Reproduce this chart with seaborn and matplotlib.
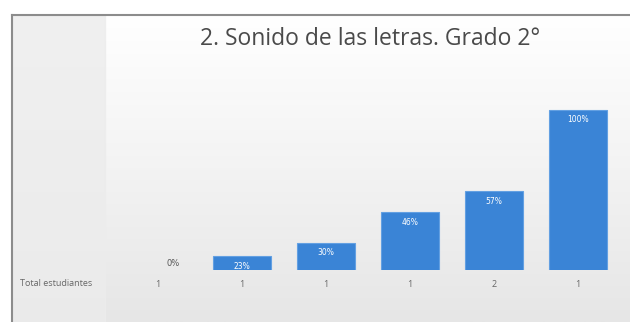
import numpy as np
import pandas as pd
import matplotlib.pyplot as plt
import seaborn as sns
from matplotlib.colors import LinearSegmentedColormap
from matplotlib.patches import Rectangle

# datos
porcentajes = [0, 23, 30, 46, 57, 100]
estudiantes = ["1", "1", "1", "1", "2", "1"]
titulo = "2. Sonido de las letras. Grado 2°"

df = pd.DataFrame({"pos": np.arange(len(porcentajes)), "pct": porcentajes})

sns.set_style("white")
plt.rcParams['font.family'] = ['Open Sans', 'DejaVu Sans']

fig = plt.figure(figsize=(6.3, 3.22), dpi=100)
fig.patch.set_facecolor("white")

# fondo degradado gris claro
bg = fig.add_axes([12/630, 0, 1 - 12/630, 1 - 15/322], zorder=-5)
grad = np.linspace(0, 1, 256).reshape(-1, 1)
cmap_bg = LinearSegmentedColormap.from_list("bg", ["#e6e6e6", "#f3f3f3", "#ffffff"])
bg.imshow(grad, aspect="auto", cmap=cmap_bg, origin="lower", extent=[0, 1, 0, 1])
# panel izquierdo un poco mas gris
bg.add_patch(Rectangle((0, 0), (105 - 12)/618, 1, color="#ececec", alpha=0.8))
bg.set_xlim(0, 1)
bg.set_ylim(0, 1)
bg.set_xticks([])
bg.set_yticks([])
for s in ["right", "bottom"]:
    bg.spines[s].set_visible(False)
for s in ["top", "left"]:
    bg.spines[s].set_color("#8c8c8c")
    bg.spines[s].set_linewidth(1.5)

ax = fig.add_axes([116/630, 52/322, 504/630, 180/322])
ax.patch.set_alpha(0)
sns.barplot(data=df, x="pos", y="pct", color="#3a84d6", width=0.69,
            edgecolor="#63a0e2", linewidth=0.8, saturation=1, ax=ax)
ax.set_ylim(15.6, 110.3)
ax.set_xlim(-0.5, 5.5)

for i, v in enumerate(porcentajes):
    if v == 0:
        ax.text(i + 0.18, 16.5, f"{v}%", ha="center", va="bottom",
                fontsize=6, color="#555555", family="DejaVu Sans")
    else:
        ax.text(i, v - 3, f"{v}%", ha="center", va="top",
                fontsize=5.5, color="white", family="DejaVu Sans")

ax.set_xticks(df["pos"])
ax.set_xticklabels(estudiantes, fontsize=6.5, color="#666666")
ax.tick_params(axis="x", length=0, pad=7)
ax.set_yticks([])
ax.set_xlabel("")
ax.set_ylabel("")
for s in ax.spines.values():
    s.set_visible(False)

fig.text(20/630, 1 - 284/322, "Total estudiantes", fontsize=6.5, color="#666666",
         va="center", ha="left")
fig.text(370/630, 1 - 39/322, titulo, fontsize=16.5, color="#4a4a4a",
         ha="center", va="center")

fig.savefig("out.png", dpi=100)
